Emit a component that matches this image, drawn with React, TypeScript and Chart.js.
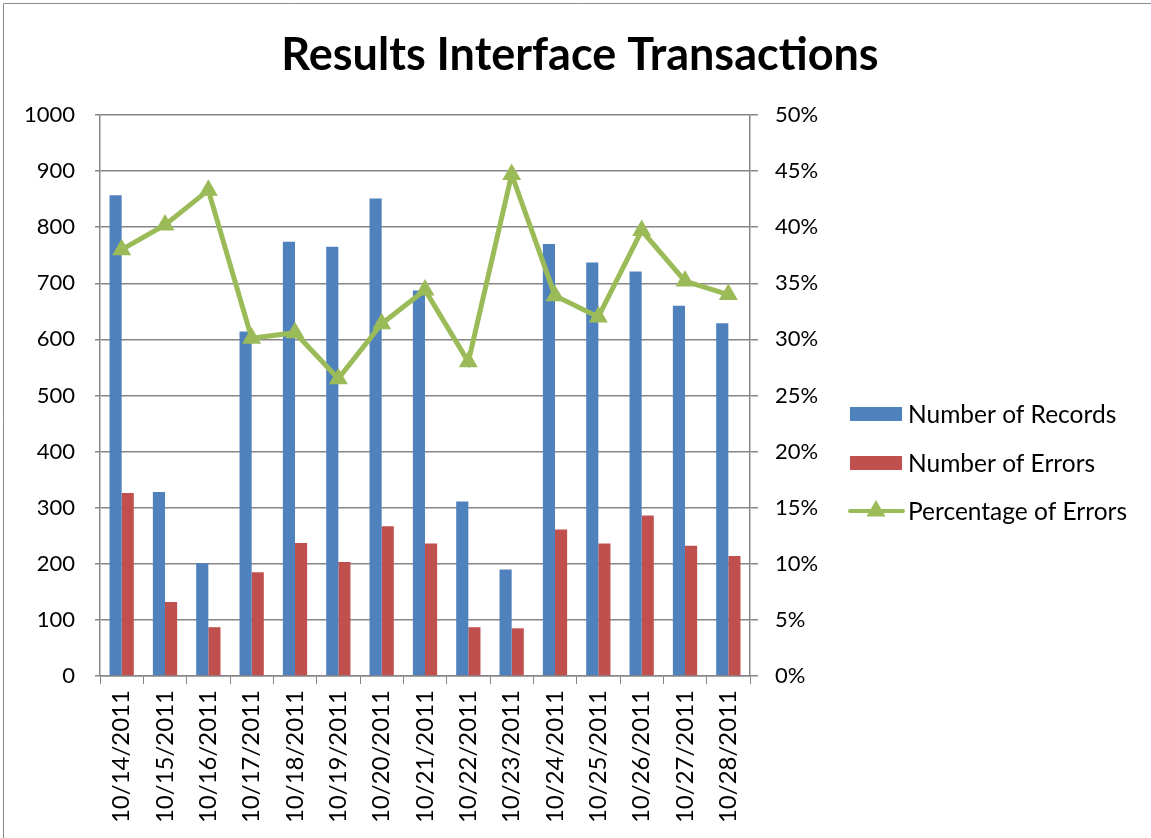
import React, { useEffect, useRef } from "react";
import { Chart, registerables } from "chart.js";

Chart.register(...registerables);

const categories = [
  "10/14/2011", "10/15/2011", "10/16/2011", "10/17/2011", "10/18/2011",
  "10/19/2011", "10/20/2011", "10/21/2011", "10/22/2011", "10/23/2011",
  "10/24/2011", "10/25/2011", "10/26/2011", "10/27/2011", "10/28/2011",
];
const records = [857, 328, 201, 614, 774, 765, 851, 687, 311, 190, 770, 737, 721, 660, 629];
const errors = [326, 132, 87, 185, 237, 203, 267, 236, 87, 85, 261, 236, 286, 232, 214];
const percentErrors = [0.38, 0.402, 0.433, 0.301, 0.306, 0.265, 0.314, 0.344, 0.28, 0.447, 0.339, 0.32, 0.397, 0.352, 0.34];

const TITLE = "Results Interface Transactions";
const seriesNames = ["Number of Records", "Number of Errors", "Percentage of Errors"];
const FONT = "Lato";
const BLUE = "#4F81BD";
const RED = "#C0504D";
const GREEN = "#9BBB59";
const GRID = "#868686";

const W = 1151;
const H = 838;

const decorPlugin = {
  id: "decor",
  beforeDraw(chart: any) {
    const ctx = chart.ctx;
    ctx.save();
    ctx.fillStyle = "#fff";
    ctx.fillRect(0, 0, W, H);
    ctx.restore();
  },
  afterDraw(chart: any) {
    const ctx = chart.ctx;
    ctx.save();
    // border
    ctx.strokeStyle = "#8a8a8a";
    ctx.lineWidth = 1;
    ctx.beginPath();
    ctx.moveTo(3.5, H);
    ctx.lineTo(3.5, 3.5);
    ctx.lineTo(W, 3.5);
    ctx.stroke();
    // title
    ctx.fillStyle = "#000";
    ctx.font = `bold 45px ${FONT}`;
    ctx.textAlign = "center";
    ctx.textBaseline = "middle";
    ctx.fillText(TITLE, 580, 55);
    // legend
    ctx.font = `24.5px ${FONT}`;
    ctx.textAlign = "left";
    const ys = [414, 463, 511];
    ctx.fillStyle = BLUE;
    ctx.fillRect(850, ys[0] - 7, 52, 14);
    ctx.fillStyle = RED;
    ctx.fillRect(850, ys[1] - 7, 52, 14);
    ctx.strokeStyle = GREEN;
    ctx.lineWidth = 4;
    ctx.lineCap = "round";
    ctx.beginPath();
    ctx.moveTo(850, ys[2]);
    ctx.lineTo(903, ys[2]);
    ctx.stroke();
    ctx.fillStyle = GREEN;
    const r = 11;
    const cx = 876, cy = ys[2];
    ctx.beginPath();
    for (let i = 0; i < 3; i++) {
      const a = (i * 2 * Math.PI) / 3;
      const px = cx + Math.sin(a) * r;
      const py = cy - Math.cos(a) * r;
      if (i === 0) ctx.moveTo(px, py);
      else ctx.lineTo(px, py);
    }
    ctx.closePath();
    ctx.fill();
    ctx.fillStyle = "#000";
    seriesNames.forEach((n, i) => ctx.fillText(n, 908, ys[i] + 1));
    ctx.restore();
  },
};

export default function App() {
  const ref = useRef<HTMLCanvasElement>(null);
  useEffect(() => {
    document.body.style.margin = "0";
    const tickFont = { family: FONT, size: 22 };
    const chart = new Chart(ref.current as HTMLCanvasElement, {
      type: "bar",
      data: {
        labels: categories,
        datasets: [
          {
            type: "line",
            label: seriesNames[2],
            data: percentErrors,
            yAxisID: "y1",
            borderColor: GREEN,
            backgroundColor: GREEN,
            borderWidth: 5,
            pointStyle: "triangle",
            pointRadius: 11,
            pointBorderWidth: 0,
            pointBackgroundColor: GREEN,
            tension: 0,
            order: 0,
          } as any,
          {
            label: seriesNames[0],
            data: records,
            yAxisID: "y",
            backgroundColor: BLUE,
            borderWidth: 0,
            categoryPercentage: 0.56,
            barPercentage: 1,
            order: 1,
          },
          {
            label: seriesNames[1],
            data: errors,
            yAxisID: "y",
            backgroundColor: RED,
            borderWidth: 0,
            categoryPercentage: 0.56,
            barPercentage: 1,
            order: 1,
          },
        ],
      },
      options: {
        responsive: false,
        animation: false,
        layout: { padding: { top: 115, left: 0, right: 0, bottom: 0 } },
        plugins: {
          legend: { display: false },
          title: { display: false },
          tooltip: { enabled: false },
        },
        scales: {
          x: {
            type: "category",
            grid: {
              drawOnChartArea: false,
              drawTicks: true,
              tickLength: 8,
              color: GRID,
              offset: true,
            },
            border: { color: GRID, width: 1.5 },
            ticks: {
              minRotation: 90,
              maxRotation: 90,
              autoSkip: false,
              padding: 6,
              color: "#000",
              font: { family: FONT, size: 24 },
            },
            afterFit(scale: any) {
              scale.height = H - 676;
            },
          },
          y: {
            position: "left",
            min: 0,
            max: 1000,
            grid: { color: GRID, lineWidth: 1.5, tickLength: 5 },
            border: { color: GRID, width: 1.5 },
            ticks: {
              stepSize: 100,
              padding: 20,
              color: "#000",
              font: tickFont,
              callback: (v: any) => String(v),
            },
            afterFit(scale: any) {
              scale.width = 100;
            },
          },
          y1: {
            position: "right",
            min: 0,
            max: 0.5,
            grid: { drawOnChartArea: false, color: GRID, lineWidth: 1.5, tickLength: 8 },
            border: { color: GRID, width: 1.5 },
            ticks: {
              stepSize: 0.05,
              padding: 17,
              color: "#000",
              font: tickFont,
              callback: (v: any) => Math.round(Number(v) * 100) + "%",
            },
            afterFit(scale: any) {
              scale.width = W - 750;
            },
          },
        },
      },
      plugins: [decorPlugin],
    });
    return () => chart.destroy();
  }, []);
  return (
    <div style={{ position: "absolute", left: 0, top: 0, width: W, height: H }}>
      <canvas ref={ref} width={W} height={H} />
    </div>
  );
}
